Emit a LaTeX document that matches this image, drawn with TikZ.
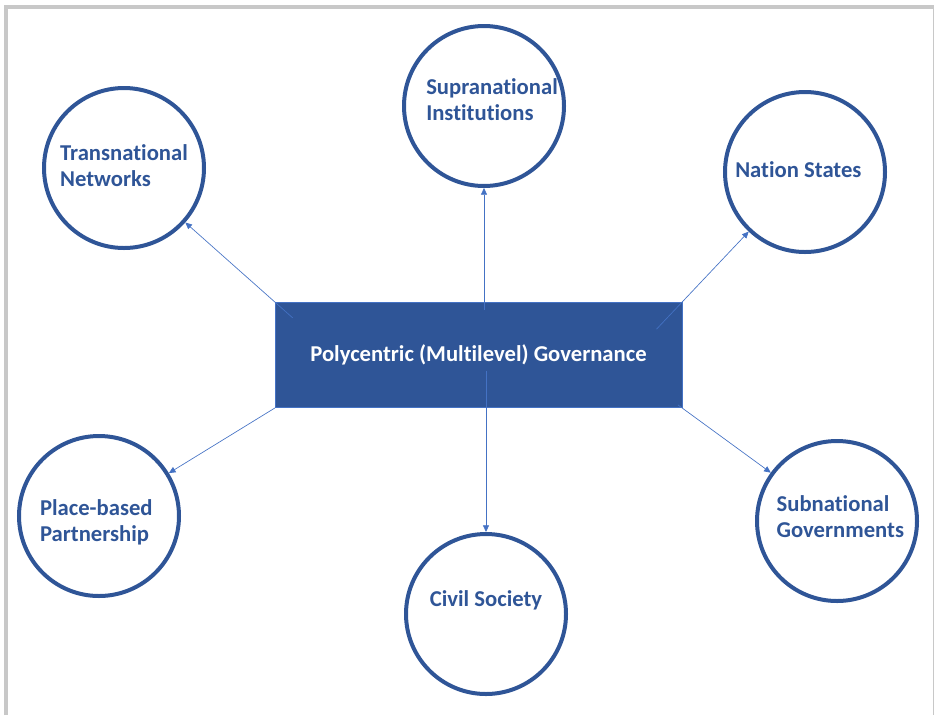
\documentclass[tikz,border=0pt]{standalone}
\usepackage{fontspec}
\setmainfont{Carlito}[Ligatures=NoCommon]
\usetikzlibrary{arrows.meta}

\definecolor{darkblue}{HTML}{2F5597}
\definecolor{lineblue}{HTML}{4472C4}
\definecolor{framegray}{HTML}{C8C8C8}

\tikzset{
  actor/.style={circle, draw=darkblue, line width=3pt, minimum size=120pt,
    inner sep=0pt},
  actortext/.style={align=left, text=darkblue, inner sep=0pt,
    font=\bfseries\fontsize{17}{19.5}\selectfont},
  govbox/.style={rectangle, fill=darkblue, draw=lineblue, line width=0.5pt,
    minimum width=305pt, minimum height=79pt, text=white,
    font=\bfseries\fontsize{17}{19.5}\selectfont},
  link/.style={lineblue, line width=0.5pt, -{Triangle[length=5pt,width=4.5pt]}},
}

\begin{document}
\begin{tikzpicture}[x=0.75pt, y=-0.75pt]
      \useasboundingbox (0,0) rectangle (935,715);
      % frame
      \draw[framegray, line width=3pt] (5.5,715) -- (5.5,6.5) -- (933.5,6.5);
      \draw[framegray, line width=0.8pt] (933.5,6.5) -- (933.5,715);

      \node[govbox] (gov) at (478.5,355) {Polycentric (Multilevel) Governance};

      \node[actor, label={[actortext, yshift=2pt]center:Transnational\\Networks}] (trans) at (124,168) {};
      \node[actor, label={[actortext, xshift=6pt, yshift=5pt]center:Supranational\\Institutions}] (supra) at (484,106) {};
      \node[actor, label={[actortext, xshift=-5pt, yshift=2pt]center:Nation States}] (nation) at (805,172) {};
      \node[actor, label={[actortext, xshift=-2pt, yshift=-5pt]center:Place-based\\Partnership}] (place) at (99,516) {};
      \node[actor, label={[actortext, yshift=10pt]center:Civil Society}] (civil) at (486,614) {};
      \node[actor, label={[actortext, xshift=2.5pt, yshift=3pt]center:Subnational\\Governments}] (subnat) at (837,521) {};

      \draw[link, shorten <=-18pt] (gov.north west)--(trans);
      \draw[link, shorten <=-28pt] (gov.north east)--(nation);
      \draw[link] (gov.south west)--(place);
      \draw[link, shorten <=-4pt] (gov.south east)--(subnat);
      \draw[link, shorten <=-6pt] (gov.north -| supra)--(supra);
      \draw[link, shorten <=-28pt] (gov.south -| civil)--(civil);
    \end{tikzpicture}
\end{document}
